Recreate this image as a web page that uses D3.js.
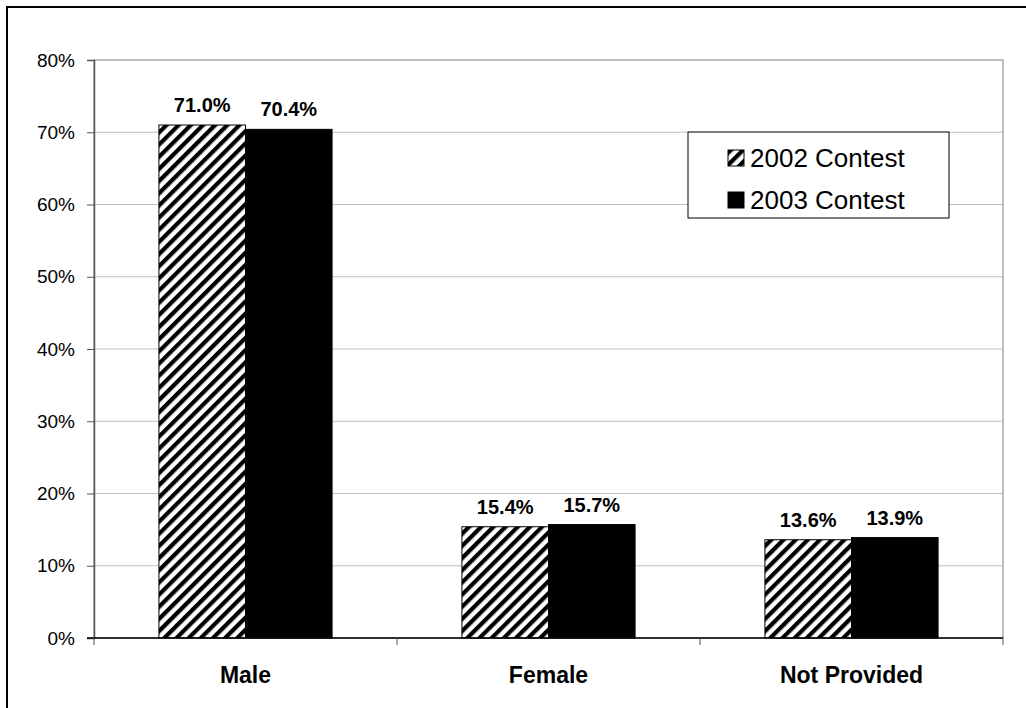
<!DOCTYPE html>
<html>
<head>
<meta charset="utf-8">
<script src="https://cdn.jsdelivr.net/npm/d3@7"></script>
<style>
  html, body { margin: 0; padding: 0; background: #fff; }
  svg { display: block; font-family: "Liberation Sans", Arial, sans-serif; }
</style>
</head>
<body>
<svg id="chart" width="1026" height="708"></svg>
<script>
// Participant gender share, 2002 vs 2003 contest
const categories = ["Male", "Female", "Not Provided"];
const seriesNames = ["2002 Contest", "2003 Contest"];
const values2002 = [71.0, 15.4, 13.6];
const values2003 = [70.4, 15.7, 13.9];
const yTicks = [0, 10, 20, 30, 40, 50, 60, 70, 80];

const svg = d3.select("#chart");
const W = 1026, H = 708;
const plot = { left: 94, right: 1003, top: 60, bottom: 638 };

svg.append("rect").attr("width", W).attr("height", H).attr("fill", "#fff");

// outer frame (top and left edges visible)
svg.append("path")
  .attr("d", `M7,${H} V7 H${W}`)
  .attr("fill", "none").attr("stroke", "#000").attr("stroke-width", 2);

// diagonal hatch used for the 2002 series
const defs = svg.append("defs");
const pat = defs.append("pattern")
  .attr("id", "hatch")
  .attr("patternUnits", "userSpaceOnUse")
  .attr("width", 8.6).attr("height", 8.6)
  .attr("patternTransform", "rotate(45)");
pat.append("rect").attr("width", 8.6).attr("height", 8.6).attr("fill", "#fff");
pat.append("rect").attr("width", 4.2).attr("height", 8.6).attr("fill", "#000");

const x0 = d3.scaleBand().domain(categories).range([plot.left, plot.right]).paddingInner(0).paddingOuter(0);
const x1 = d3.scaleBand().domain(seriesNames).range([0, x0.bandwidth()]).paddingInner(0).paddingOuter(0.75);
const y = d3.scaleLinear().domain([0, 80]).range([plot.bottom, plot.top]);

// gridlines
svg.append("g").selectAll("line").data(yTicks.filter(t => t > 0 && t < 80)).join("line")
  .attr("x1", plot.left).attr("x2", plot.right)
  .attr("y1", d => y(d)).attr("y2", d => y(d))
  .attr("stroke", "#c0c0c0").attr("stroke-width", 1);

// plot area border
svg.append("rect")
  .attr("x", plot.left).attr("y", plot.top)
  .attr("width", plot.right - plot.left).attr("height", plot.bottom - plot.top)
  .attr("fill", "none").attr("stroke", "#808080").attr("stroke-width", 1);

// y axis
const yAxis = d3.axisLeft(y).tickValues(yTicks).tickFormat(d => d + "%").tickSize(7).tickPadding(12);
const gy = svg.append("g").attr("transform", `translate(${plot.left},0)`).call(yAxis);
gy.select(".domain").attr("stroke", "#555").attr("stroke-width", 1.5);
gy.selectAll(".tick line").attr("stroke", "#555");
gy.selectAll("text").attr("font-size", 19).attr("fill", "#000")
  .attr("font-family", "Liberation Sans, Arial, sans-serif");

const rows = categories.map((c, i) => ({ cat: c, vals: [values2002[i], values2003[i]] }));

const groups = svg.append("g").selectAll("g").data(rows).join("g")
  .attr("transform", d => `translate(${x0(d.cat)},0)`);

groups.selectAll("rect").data(d => d.vals.map((v, j) => ({ s: seriesNames[j], v, j }))).join("rect")
  .attr("x", d => x1(d.s))
  .attr("y", d => y(d.v))
  .attr("width", x1.bandwidth())
  .attr("height", d => y(0) - y(d.v))
  .attr("fill", d => d.j === 0 ? "url(#hatch)" : "#000")
  .attr("stroke", "#000").attr("stroke-width", 1);

groups.selectAll("text.val").data(d => d.vals.map((v, j) => ({ s: seriesNames[j], v }))).join("text")
  .attr("class", "val")
  .attr("x", d => x1(d.s) + x1.bandwidth() / 2)
  .attr("y", d => y(d.v) - 13)
  .attr("text-anchor", "middle")
  .attr("font-size", 20).attr("font-weight", "bold")
  .text(d => d.v.toFixed(1) + "%");

// x axis
const gx = svg.append("g").attr("transform", `translate(0,${plot.bottom})`);
gx.append("line").attr("x1", plot.left - 7).attr("x2", plot.right)
  .attr("y1", 0).attr("y2", 0).attr("stroke", "#000").attr("stroke-width", 1.5);
const bounds = categories.map(c => x0(c)).concat([plot.right]);
gx.selectAll("line.tk").data(bounds).join("line").attr("class", "tk")
  .attr("x1", d => d).attr("x2", d => d).attr("y1", 0).attr("y2", 7)
  .attr("stroke", "#555").attr("stroke-width", 1);
gx.selectAll("text").data(categories).join("text")
  .attr("x", d => x0(d) + x0.bandwidth() / 2)
  .attr("y", 45)
  .attr("text-anchor", "middle")
  .attr("font-size", 23).attr("font-weight", "bold")
  .text(d => d);

// legend
const lg = svg.append("g").attr("transform", "translate(688,132)");
lg.append("rect").attr("width", 261).attr("height", 86)
  .attr("fill", "#fff").attr("stroke", "#000").attr("stroke-width", 1);
const items = lg.selectAll("g").data(seriesNames).join("g")
  .attr("transform", (d, i) => `translate(40,${18 + i * 42})`);
items.append("rect").attr("width", 16).attr("height", 16)
  .attr("fill", (d, i) => i === 0 ? "url(#hatch)" : "#000")
  .attr("stroke", "#000").attr("stroke-width", 1);
items.append("text").attr("x", 22).attr("y", 17)
  .attr("font-size", 26).text(d => d);
</script>
</body>
</html>
